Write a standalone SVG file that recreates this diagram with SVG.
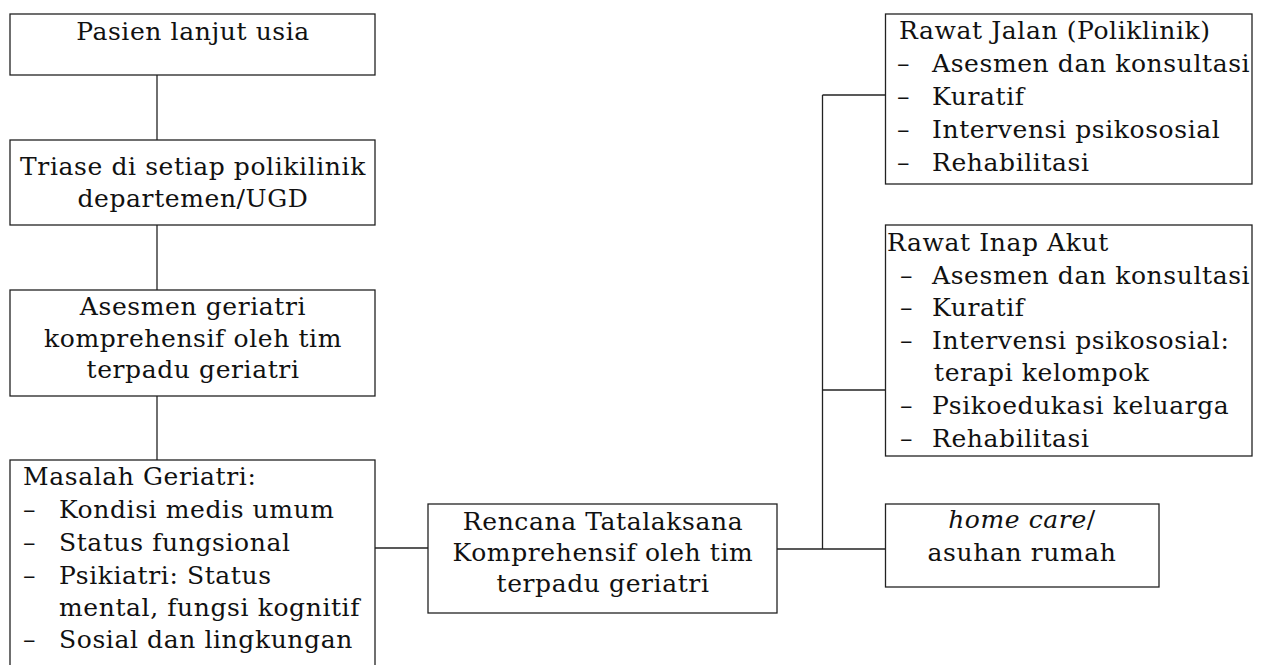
<svg xmlns="http://www.w3.org/2000/svg" width="1263" height="665" viewBox="0 0 1263 665">
<style>
rect.box{fill:#fff;stroke:#222;stroke-width:1.3}
.c line{stroke:#222;stroke-width:1.3;fill:none}
text{font-family:"DejaVu Serif","Liberation Serif",serif;font-size:25px;letter-spacing:0.6px;fill:#111}
.m{text-anchor:middle}
</style>
<rect width="1263" height="665" fill="#fff"/>
<g class="c" id="connectors">
<line x1="157" y1="75" x2="157" y2="140"/>
<line x1="157" y1="225" x2="157" y2="290"/>
<line x1="157" y1="396" x2="157" y2="460"/>
<line x1="375" y1="548" x2="428" y2="548"/>
<line x1="777" y1="549" x2="885" y2="549"/>
<line x1="822.5" y1="95" x2="822.5" y2="549"/>
<line x1="822.5" y1="95" x2="896" y2="95"/>
<line x1="822.5" y1="390" x2="885" y2="390"/>
</g>
<g id="n1">
<rect class="box" x="10" y="14" width="365" height="61"/>
<text class="m" x="193" y="40">Pasien lanjut usia</text>
</g>
<g id="n2">
<rect class="box" x="10" y="140" width="365" height="85"/>
<text class="m" x="193" y="175">Triase di setiap polikilinik</text>
<text class="m" x="193" y="207">departemen/UGD</text>
</g>
<g id="n3">
<rect class="box" x="10" y="290" width="365" height="106"/>
<text class="m" x="193" y="315">Asesmen geriatri</text>
<text class="m" x="193" y="347">komprehensif oleh tim</text>
<text class="m" x="193" y="378">terpadu geriatri</text>
</g>
<g id="n4">
<rect class="box" x="10" y="460" width="365" height="220"/>
<text x="23" y="485">Masalah Geriatri:</text>
<text x="23" y="518">–</text><text x="59" y="518">Kondisi medis umum</text>
<text x="23" y="551">–</text><text x="59" y="551">Status fungsional</text>
<text x="23" y="584">–</text><text x="59" y="584">Psikiatri: Status</text>
<text x="59" y="616">mental, fungsi kognitif</text>
<text x="23" y="648">–</text><text x="59" y="648">Sosial dan lingkungan</text>
</g>
<g id="n5">
<rect class="box" x="428" y="504" width="349" height="109"/>
<text class="m" x="603" y="530">Rencana Tatalaksana</text>
<text class="m" x="603" y="561">Komprehensif oleh tim</text>
<text class="m" x="603" y="592">terpadu geriatri</text>
</g>
<g id="n6">
<rect class="box" x="885.5" y="14" width="366.5" height="170"/>
<text x="899" y="39">Rawat Jalan (Poliklinik)</text>
<text x="897" y="72">–</text><text x="932" y="72">Asesmen dan konsultasi</text>
<text x="897" y="105">–</text><text x="932" y="105">Kuratif</text>
<text x="897" y="138">–</text><text x="932" y="138">Intervensi psikososial</text>
<text x="897" y="171">–</text><text x="932" y="171">Rehabilitasi</text>
</g>
<g id="n7">
<rect class="box" x="885.5" y="225" width="366.5" height="231"/>
<text x="887" y="251">Rawat Inap Akut</text>
<text x="900" y="284">–</text><text x="932" y="284">Asesmen dan konsultasi</text>
<text x="900" y="316">–</text><text x="932" y="316">Kuratif</text>
<text x="900" y="349">–</text><text x="932" y="349">Intervensi psikososial:</text>
<text x="934" y="381">terapi kelompok</text>
<text x="900" y="414">–</text><text x="932" y="414">Psikoedukasi keluarga</text>
<text x="900" y="447">–</text><text x="932" y="447">Rehabilitasi</text>
</g>
<g id="n8">
<rect class="box" x="885.5" y="504" width="273.5" height="83"/>
<text class="m" x="1022" y="528"><tspan font-style="italic">home care</tspan>/</text>
<text class="m" x="1022" y="561">asuhan rumah</text>
</g>
</svg>
